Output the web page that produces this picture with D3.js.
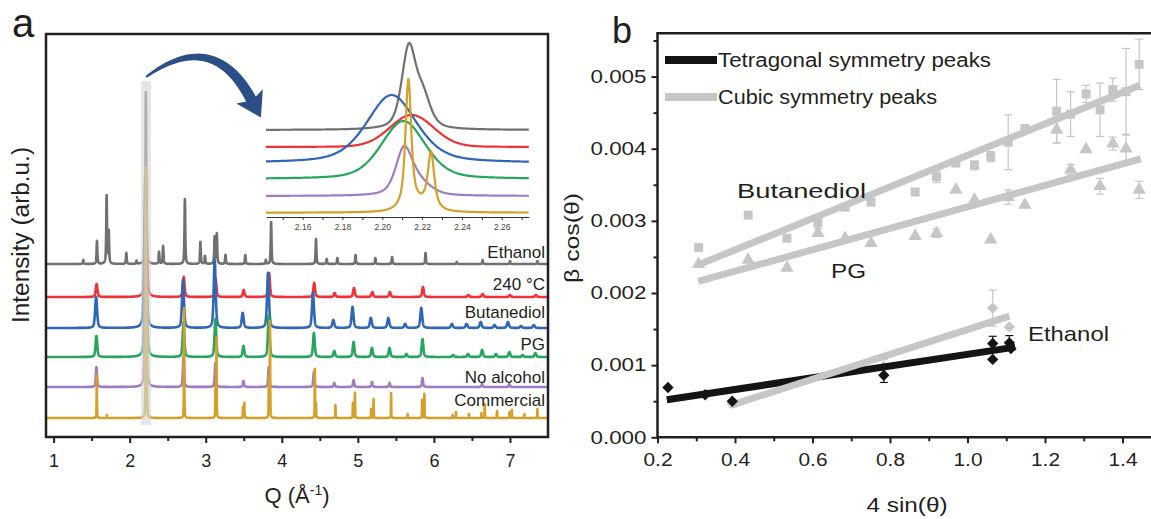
<!DOCTYPE html>
<html><head><meta charset="utf-8">
<script src="https://cdn.jsdelivr.net/npm/d3@7/dist/d3.min.js"></script>
<style>
html,body{margin:0;padding:0;background:#fff;}
svg{display:block;font-family:"Liberation Sans",Arial,Helvetica,sans-serif;}
</style></head>
<body><svg id="c" width="1151" height="519"></svg>
<script>
// ---------------- DATA : panel a (peak lists: [Q, height]) ----------------
const seriesNames = ["Ethanol", "240 °C", "Butanediol", "PG", "No alcohol", "Commercial"];
const seriesOffsets = [173, 140, 109, 80, 50, 19];           // baseline of each trace (arb.u.)
const seriesWidths = [0.006, 0.013, 0.015, 0.013, 0.009, 0.0025]; // HWHM (Å^-1)
const seriesEta = [0.7, 0.5, 0.5, 0.5, 0.6, 0.8];
const ethanolPeaks = [[1.39,4],[1.57,23],[1.697,68],[1.725,32],[1.956,11],[2.09,3],[2.213,172],[2.386,12],[2.44,18],
  [2.726,65],[2.93,22],[2.99,8],[3.117,27],[3.146,30],[3.26,9],[3.52,9],[3.79,4],[3.86,42],[4.45,25],[4.59,5],
  [4.73,6],[4.97,9],[5.23,6],[5.45,7],[5.89,11],[6.3,2],[6.64,4],[7.0,3],[7.36,3]];
const heatedPeaks = [[1.565,13],[2.215,122],[2.711,20],[3.13,18],[3.499,7],[3.833,24],[4.426,14],[4.695,4],[4.949,9],
  [5.19,5],[5.421,5],[5.856,10],[6.453,2],[6.64,3],[6.999,2],[7.341,2]];
const butanediolPeaks = [[1.559,31],[2.205,148],[2.701,48],[3.118,68],[3.486,15],[3.819,55],[4.41,35],[4.677,8],
  [4.93,21],[5.171,10],[5.401,10],[5.622,4],[5.834,20],[6.236,4],[6.429,4],[6.615,6],[6.797,3],[6.973,6],[7.145,2],[7.313,3]];
const pgPeaks = [[1.563,21],[2.2106,172],[2.708,35],[3.127,38],[3.496,11],[3.829,42],[4.422,24],[4.69,6],[4.944,15],
  [5.185,9],[5.416,9],[5.638,3],[5.85,18],[6.254,2],[6.447,3],[6.633,7],[6.815,3],[6.992,5],[7.165,2],[7.334,4]];
const noAlcoholPeaks = [[1.563,20],[2.2108,197],[2.708,30],[3.127,24],[3.496,6],[3.829,20],[4.422,15],[4.69,4],
  [4.944,7],[5.185,5],[5.416,4],[5.85,9],[6.633,3],[6.992,3]];
const commercialPeaks = [[1.568,43],[1.70,3],[2.2131,246],[2.2245,118],[2.716,110],[3.128,30],[3.142,80],[3.49,11],
  [3.508,15],[3.83,40],[3.845,96],[4.435,49],[4.45,14],[4.705,13],[4.935,15],[4.962,25],[5.175,9],[5.207,19],
  [5.437,25],[5.655,4],[5.845,18],[5.875,24],[6.245,3],[6.29,6],[6.46,4],[6.625,5],[6.668,14],[6.83,7],
  [6.995,6],[7.025,8],[7.19,4],[7.36,9]];
const allPeaks = [ethanolPeaks, heatedPeaks, butanediolPeaks, pgPeaks, noAlcoholPeaks, commercialPeaks];
const seriesColors = ["#707070", "#ee3338", "#2f66b6", "#25a65c", "#a07cbf", "#d3a02a"];
const xTicksA = [1, 2, 3, 4, 5, 6, 7];
const xMinorA = [1.5, 2.5, 3.5, 4.5, 5.5, 6.5];

// inset (zoom on the 2.21 Å^-1 reflection): [Q, height, HWHM, eta]
const insetOffsets = [86.7, 69.7, 53.7, 37.7, 20.7, 4];
const insetEthanol = [[2.2133,80,0.0042,0.5],[2.2205,30,0.0045,0.5]];
const insetHeated = [[2.2148,32,0.013,0.1]];
const insetButanediol = [[2.2047,68,0.0148,0.45]];
const insetPG = [[2.2106,58,0.013,0.35]];
const insetNoAlcohol = [[2.2108,42,0.0048,0.5],[2.2175,14,0.0075,0.4]];
const insetCommercial = [[2.2131,128,0.0017,0.75],[2.2245,55,0.0019,0.75],[2.218,8,0.007,0.3]];
const insetPeaks = [insetEthanol, insetHeated, insetButanediol, insetPG, insetNoAlcohol, insetCommercial];
const insetTicks = [2.15,2.16,2.17,2.18,2.19,2.20,2.21,2.22,2.23,2.24,2.25,2.26,2.27];
const insetLabels = [2.16, 2.18, 2.20, 2.22, 2.24, 2.26];

// ---------------- DATA : panel b ----------------
const bX = [0.306,0.434,0.534,0.614,0.684,0.751,0.865,0.920,0.970,1.018,1.060,1.105,1.148,1.230,1.266,1.306,1.342,1.375,1.409,1.443];
const butanediolY = [2.63,3.08,2.76,2.97,3.19,3.26,3.40,3.61,3.80,3.77,3.89,4.09,4.28,4.52,4.48,4.76,4.54,4.82,4.79,5.17];
const butanediolErr = [0,0,0,0.08,0,0,0,0.08,0,0.06,0.07,0.38,0,0.44,0.31,0.12,0.37,0.16,0.60,0.35];
const pgY = [2.40,2.46,2.35,2.83,2.76,2.69,2.79,2.83,3.43,3.29,2.74,3.33,3.22,4.26,3.71,3.99,3.48,4.07,4.00,3.43];
const pgErr = [0,0,0,0,0,0,0,0.06,0,0,0,0.10,0,0.18,0.07,0,0.11,0.09,0.20,0.12];
const ethCubX = [0.393,0.784,1.065,1.108];
const ethCubY = [0.47,0.98,1.79,1.53];
const ethCubErr = [0.05,0.10,0.25,0];
const ethTetX = [0.227,0.323,0.393,0.784,1.065,1.065,1.108,1.112];
const ethTetY = [0.69,0.59,0.50,0.86,1.30,1.08,1.31,1.23];
const ethTetErr = [0,0,0,0.10,0.10,0,0.10,0];
// linear fits: [x0, y0, x1, y1] (y in 1e-3)
const fitButanediol = [0.305, 2.39, 1.445, 4.88];
const fitPG = [0.305, 2.16, 1.447, 3.86];
const fitEthCubic = [0.393, 0.45, 1.108, 1.68];
const fitEthTetra = [0.224, 0.52, 1.123, 1.25];
const xTicksB = [0.2,0.4,0.6,0.8,1.0,1.2,1.4];
const xMinorB = [0.3,0.5,0.7,0.9,1.1,1.3];
const yTicksB = [0,0.001,0.002,0.003,0.004,0.005];
const yMinorB = [0.0005,0.0015,0.0025,0.0035,0.0045,0.0055];

// ---------------- helpers ----------------
const svg = d3.select("#c");
const FR = "#231f20";
function pv(q, p, hwDefault, etaDefault) {
  const hw = p[2] !== undefined ? p[2] : hwDefault;
  const eta = p[3] !== undefined ? p[3] : etaDefault;
  const x = (q - p[0]) / hw;
  return p[1] * (eta / (1 + x * x) + (1 - eta) * Math.exp(-Math.LN2 * x * x));
}
function sampleGrid(peaks, lo, hi, step, hwDefault) {
  const pts = d3.range(lo, hi + step / 2, step);
  const ks = [-8,-6,-4,-3,-2.2,-1.6,-1.2,-0.9,-0.6,-0.3,0,0.3,0.6,0.9,1.2,1.6,2.2,3,4,6,8];
  peaks.forEach(p => { const hw = p[2] !== undefined ? p[2] : hwDefault; ks.forEach(k => { const q = p[0] + k * hw; if (q > lo && q < hi) pts.push(q); }); });
  return Array.from(new Set(pts)).sort((a, b) => a - b);
}

// ---------------- panel a ----------------
const xA = d3.scaleLinear([0.9, 7.5], [46, 548]);
const yA = d3.scaleLinear([0, 403], [437, 34]);
svg.append("defs").append("clipPath").attr("id", "clipA").append("rect")
  .attr("x", 46).attr("y", 34).attr("width", 502).attr("height", 403);

const gA = svg.append("g").attr("clip-path", "url(#clipA)");
allPeaks.forEach((peaks, i) => {
  const qs = sampleGrid(peaks, 0.9, 7.5, 0.002, seriesWidths[i]);
  const pts = qs.map(q => [q, seriesOffsets[i] + d3.sum(peaks, p => pv(q, p, seriesWidths[i], seriesEta[i]))]);
  gA.append("path").datum(pts)
    .attr("d", d3.line().x(d => xA(d[0])).y(d => yA(d[1])))
    .attr("fill", "none").attr("stroke", seriesColors[i]).attr("stroke-width", 2.6)
    .attr("stroke-linejoin", "round");
});
// highlight band over the 2.21 reflection
svg.append("rect").attr("x", xA(2.15)).attr("y", 81).attr("width", xA(2.28) - xA(2.15)).attr("height", 344)
  .attr("fill", "#d6d6d6").attr("opacity", 0.62);

// series labels
const labelBase = [258, 290, 318, 350, 383, 406];
seriesNames.forEach((n, i) => {
  svg.append("text").attr("x", 545).attr("y", labelBase[i]).attr("text-anchor", "end")
    .attr("font-size", 17).attr("fill", "#231f20").text(n);
});

// axes a
const axA = svg.append("g").attr("transform", "translate(0,437)")
  .call(d3.axisBottom(xA).tickValues(xTicksA).tickSize(6).tickPadding(11).tickFormat(d3.format("d")));
axA.select(".domain").remove();
axA.selectAll("line").attr("stroke", FR).attr("stroke-width", 2);
axA.selectAll("text").attr("font-size", 18).attr("fill", "#231f20").attr("font-family", null);
const axAm = svg.append("g").attr("transform", "translate(0,437)")
  .call(d3.axisBottom(xA).tickValues(xMinorA).tickSize(4).tickFormat(""));
axAm.select(".domain").remove();
axAm.selectAll("line").attr("stroke", FR).attr("stroke-width", 2);
svg.append("rect").attr("x", 46).attr("y", 34).attr("width", 502).attr("height", 403)
  .attr("fill", "none").attr("stroke", FR).attr("stroke-width", 2.5);

const qLab = svg.append("text").attr("x", 297).attr("y", 503).attr("text-anchor", "middle")
  .attr("font-size", 22).attr("fill", "#231f20");
qLab.append("tspan").text("Q (Å");
qLab.append("tspan").attr("font-size", 14).attr("dy", -8).text("-1");
qLab.append("tspan").attr("dy", 8).text(")");
svg.append("text").attr("transform", "translate(29,235) rotate(-90)").attr("text-anchor", "middle")
  .attr("font-size", 23).attr("fill", "#231f20").attr("textLength", 176).attr("lengthAdjust", "spacingAndGlyphs")
  .text("Intensity (arb.u.)");
svg.append("text").attr("x", 12).attr("y", 37).attr("font-size", 40).attr("fill", "#231f20").text("a");

// inset
const xI = d3.scaleLinear([2.1416, 2.2737], [266, 529]);
const yI = d3.scaleLinear([0, 200], [216.7, 16.7]);
insetPeaks.forEach((peaks, i) => {
  const qs = sampleGrid(peaks, 2.1416, 2.2737, 0.0005, 0.005);
  const pts = qs.map(q => [q, insetOffsets[i] + d3.sum(peaks, p => pv(q, p, 0.005, 0.5))]);
  svg.append("path").datum(pts)
    .attr("d", d3.line().x(d => xI(d[0])).y(d => yI(d[1])))
    .attr("fill", "none").attr("stroke", seriesColors[i]).attr("stroke-width", 2.2);
});
const axI = svg.append("g").attr("transform", "translate(0,217)")
  .call(d3.axisBottom(xI).tickValues(insetTicks).tickSize(3).tickSizeOuter(0).tickPadding(4)
    .tickFormat(d => insetLabels.some(v => Math.abs(v - d) < 1e-6) ? d3.format(".2f")(d) : ""));
axI.select(".domain").attr("stroke", "#333").attr("stroke-width", 1.2);
axI.selectAll("line").attr("stroke", "#333").attr("stroke-width", 1);
axI.selectAll("text").attr("font-size", 8.5).attr("fill", "#444").attr("font-family", null);

// curved arrow
(function () {
  const P0 = [146, 77], C = [213, 28], P1 = [251, 99];
  const N = 40, top = [], bot = [];
  for (let k = 0; k <= N; k++) {
    const t = k / N;
    const x = (1 - t) * (1 - t) * P0[0] + 2 * (1 - t) * t * C[0] + t * t * P1[0];
    const y = (1 - t) * (1 - t) * P0[1] + 2 * (1 - t) * t * C[1] + t * t * P1[1];
    const dx = 2 * (1 - t) * (C[0] - P0[0]) + 2 * t * (P1[0] - C[0]);
    const dy = 2 * (1 - t) * (C[1] - P0[1]) + 2 * t * (P1[1] - C[1]);
    const L = Math.hypot(dx, dy), nx = -dy / L, ny = dx / L;
    const w = 0.9 + 4.6 * Math.pow(t, 0.7);
    top.push([x + nx * w, y + ny * w]); bot.push([x - nx * w, y - ny * w]);
  }
  const dx = P1[0] - C[0], dy = P1[1] - C[1], L = Math.hypot(dx, dy);
  const tx = dx / L, ty = dy / L, nx = -ty, ny = tx;
  const b = [P1[0] - tx * 3, P1[1] - ty * 3];
  const head = [[b[0] + nx * 15, b[1] + ny * 15], [P1[0] + tx * 21, P1[1] + ty * 21], [b[0] - nx * 15, b[1] - ny * 15]];
  const shape = top.concat([head[0], head[1], head[2]]).concat(bot.reverse());
  svg.append("path").attr("d", "M" + shape.map(p => p.join(",")).join("L") + "Z").attr("fill", "#2c4e86");
})();

// ---------------- panel b ----------------
const xB = d3.scaleLinear([0.2, 1.4735], [657.5, 1151]);
const yB = d3.scaleLinear([0, 0.0056], [437.3, 33.3]);
const GREY = "#c6c6c6", BLK = "#141414";
const gB = svg.append("g");

function errorBars(xs, ys, es, color, dash) {
  xs.forEach((x, i) => {
    if (!es[i]) return;
    const cx = xB(x), y0 = yB((ys[i] - es[i]) / 1000), y1 = yB((ys[i] + es[i]) / 1000);
    gB.append("line").attr("x1", cx).attr("x2", cx).attr("y1", y0).attr("y2", y1)
      .attr("stroke", color).attr("stroke-width", 1.2).attr("stroke-dasharray", dash || null);
    [y0, y1].forEach(yy => gB.append("line").attr("x1", cx - 4).attr("x2", cx + 4).attr("y1", yy).attr("y2", yy)
      .attr("stroke", color).attr("stroke-width", 1.2));
  });
}
function markers(xs, ys, type, size, color, rot) {
  const sym = d3.symbol().type(type).size(size);
  xs.forEach((x, i) => gB.append("path").attr("d", sym())
    .attr("transform", `translate(${xB(x)},${yB(ys[i] / 1000)}) rotate(${rot || 0})`).attr("fill", color));
}
function fitLine(f, color) {
  gB.append("line").attr("x1", xB(f[0])).attr("y1", yB(f[1] / 1000)).attr("x2", xB(f[2])).attr("y2", yB(f[3] / 1000))
    .attr("stroke", color).attr("stroke-width", 7);
}
errorBars(bX, butanediolY, butanediolErr, GREY);
errorBars(bX, pgY, pgErr, GREY);
errorBars(ethCubX, ethCubY, ethCubErr, GREY);
markers(bX, butanediolY, d3.symbolSquare, 80, GREY);
markers(bX, pgY, d3.symbolTriangle, 78, GREY);
markers(ethCubX, ethCubY, d3.symbolSquare, 64, GREY, 45);
fitLine(fitButanediol, GREY);
fitLine(fitPG, GREY);
fitLine(fitEthTetra, BLK);
fitLine(fitEthCubic, GREY);
errorBars(ethTetX, ethTetY, ethTetErr, BLK);
markers(ethTetX, ethTetY, d3.symbolSquare, 64, BLK, 45);

// axes b
function styleAxis(g) { g.select(".domain").remove(); g.selectAll("line").attr("stroke", FR).attr("stroke-width", 2); }
const axBx = svg.append("g").attr("transform", "translate(0,437.3)")
  .call(d3.axisBottom(xB).tickValues(xTicksB).tickSize(6).tickPadding(10).tickFormat(d3.format(".1f")));
styleAxis(axBx);
axBx.selectAll("text").attr("font-size", 18).attr("fill", "#231f20").attr("font-family", null)
  .attr("textLength", 29).attr("lengthAdjust", "spacingAndGlyphs");
styleAxis(svg.append("g").attr("transform", "translate(0,437.3)")
  .call(d3.axisBottom(xB).tickValues(xMinorB).tickSize(4).tickFormat("")));
const axBy = svg.append("g").attr("transform", "translate(657.5,0)")
  .call(d3.axisLeft(yB).tickValues(yTicksB).tickSize(6).tickPadding(5).tickFormat(d3.format(".3f")));
styleAxis(axBy);
axBy.selectAll("text").attr("font-size", 18).attr("fill", "#231f20").attr("font-family", null)
  .attr("textLength", 56).attr("lengthAdjust", "spacingAndGlyphs");
styleAxis(svg.append("g").attr("transform", "translate(657.5,0)")
  .call(d3.axisLeft(yB).tickValues(yMinorB).tickSize(4).tickFormat("")));
svg.append("path").attr("d", `M1151,33.3H657.5V437.3H1151`).attr("fill", "none").attr("stroke", FR).attr("stroke-width", 2.5);

function txt(x, y, s, size, len, anchor, fill) {
  return svg.append("text").attr("x", x).attr("y", y).attr("font-size", size).attr("fill", fill || "#231f20")
    .attr("text-anchor", anchor || "start").attr("textLength", len).attr("lengthAdjust", "spacingAndGlyphs").text(s);
}
// legend
svg.append("line").attr("x1", 665).attr("x2", 717).attr("y1", 60).attr("y2", 60).attr("stroke", BLK).attr("stroke-width", 8);
svg.append("line").attr("x1", 665).attr("x2", 717).attr("y1", 97).attr("y2", 97).attr("stroke", GREY).attr("stroke-width", 8);
txt(718, 67, "Tetragonal symmetry peaks", 20, 273);
txt(718, 104, "Cubic symmetry peaks", 20, 219);
txt(737, 198, "Butanediol", 21, 129);
txt(831, 278, "PG", 21, 35);
txt(1028, 341, "Ethanol", 21, 81);
txt(907, 512, "4 sin(θ)", 20, 81, "middle");
svg.append("text").attr("transform", "translate(579,238) rotate(-90)").attr("text-anchor", "middle")
  .attr("font-size", 20).attr("fill", "#231f20").attr("textLength", 90).attr("lengthAdjust", "spacingAndGlyphs")
  .text("β cos(θ)");
svg.append("text").attr("x", 612).attr("y", 43).attr("font-size", 36).attr("fill", "#231f20").text("b");
</script></body></html>
